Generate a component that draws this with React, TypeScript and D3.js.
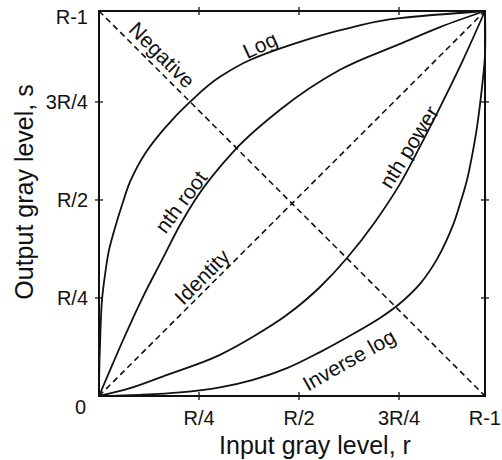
import React from "react";
import * as d3 from "d3";

// Values in units of R (gray-level range)
const R_MAX_X = 0.965; // position of "R-1" on the input axis
const R_MAX_Y = 0.982; // position of "R-1" on the output axis

const xTickValues = [0.25, 0.5, 0.75, R_MAX_X];
const xTickLabels = ["R/4", "R/2", "3R/4", "R-1"];
const yTickValues = [0, 0.25, 0.5, 0.75, R_MAX_Y];
const yTickLabels = ["0", "R/4", "R/2", "3R/4", "R-1"];

const logR = [0, 0.00125, 0.00375, 0.0075, 0.015, 0.025, 0.04, 0.0575, 0.0775, 0.1175, 0.165, 0.2275, 0.3025, 0.3775, 0.4775, 0.6275, 0.7525, 0.965];
const logS = [0, 0.092, 0.168, 0.245, 0.309, 0.372, 0.429, 0.487, 0.546, 0.622, 0.684, 0.75, 0.814, 0.857, 0.895, 0.939, 0.964, 0.982];

const rootR = [0, 0.0225, 0.0525, 0.11, 0.1575, 0.2025, 0.24, 0.34, 0.4525, 0.6025, 0.7525, 0.8525, 0.965];
const rootS = [0, 0.054, 0.125, 0.253, 0.347, 0.436, 0.5, 0.628, 0.73, 0.832, 0.898, 0.941, 0.982];

const powerR = [0, 0.0775, 0.17, 0.3025, 0.385, 0.47, 0.5525, 0.62, 0.69, 0.7525, 0.815, 0.8775, 0.91, 0.965];
const powerS = [0, 0.02, 0.054, 0.105, 0.151, 0.207, 0.278, 0.352, 0.444, 0.541, 0.661, 0.788, 0.857, 0.982];

const invLogR = [0, 0.1025, 0.2025, 0.3025, 0.385, 0.47, 0.5525, 0.635, 0.7025, 0.7475, 0.8025, 0.845, 0.885, 0.9025, 0.92, 0.9325, 0.945, 0.9575, 0.965, 0.965];
const invLogS = [0, 0.003, 0.009, 0.022, 0.041, 0.071, 0.112, 0.158, 0.199, 0.232, 0.286, 0.349, 0.436, 0.49, 0.551, 0.612, 0.686, 0.788, 0.87, 0.982];

const identityR = [0, R_MAX_X];
const identityS = [0, R_MAX_Y];
const negativeR = [0, R_MAX_X];
const negativeS = [R_MAX_Y, 0];

const W = 502;
const H = 460;

const x = d3.scaleLinear().domain([0, R_MAX_X]).range([99, 485]);
const y = d3.scaleLinear().domain([0, R_MAX_Y]).range([396, 11]);

const zip = (a: number[], b: number[]) => a.map((v, i) => [v, b[i]] as [number, number]);

const lineX = d3
  .line<[number, number]>()
  .x((d) => x(d[0]))
  .y((d) => y(d[1]))
  .curve(d3.curveMonotoneX);

const lineY = d3
  .line<[number, number]>()
  .x((d) => x(d[0]))
  .y((d) => y(d[1]))
  .curve(d3.curveMonotoneY);

const lineCR = d3
  .line<[number, number]>()
  .x((d) => x(d[0]))
  .y((d) => y(d[1]))
  .curve(d3.curveCatmullRom.alpha(0.5));

const straight = d3
  .line<[number, number]>()
  .x((d) => x(d[0]))
  .y((d) => y(d[1]));

const FONT = "'Liberation Sans', Arial, Helvetica, sans-serif";

export default function App() {
  const solid = [
    lineY(zip(logR, logS)),
    lineX(zip(rootR, rootS)),
    lineX(zip(powerR, powerS)),
    lineCR(zip(invLogR, invLogS)),
  ];
  const dashed = [zip(identityR, identityS), zip(negativeR, negativeS)];

  const labels: { text: string; r: number; s: number; angle: number }[] = [
    { text: "Negative", r: 0.1575, s: 0.87, angle: 45 },
    { text: "Log", r: 0.4025, s: 0.895, angle: -25 },
    { text: "nth root", r: 0.205, s: 0.495, angle: -53 },
    { text: "Identity", r: 0.2575, s: 0.304, angle: -45 },
    { text: "nth power", r: 0.775, s: 0.635, angle: -58 },
    { text: "Inverse log", r: 0.625, s: 0.092, angle: -29.5 },
  ];

  const x0 = x(0), x1 = x(R_MAX_X), y0 = y(0), y1 = y(R_MAX_Y);
  const tk = 4;

  return (
    <svg
      width={W}
      height={H}
      style={{ position: "absolute", left: 0, top: 0, background: "#fff" }}
      fontFamily={FONT}
    >
      <rect x={0} y={0} width={W} height={H} fill="#fff" />
      {/* curves */}
      {solid.map((d, i) => (
        <path key={"s" + i} d={d || ""} fill="none" stroke="#111" strokeWidth={1.8} />
      ))}
      {dashed.map((d, i) => (
        <path
          key={"d" + i}
          d={straight(d) || ""}
          fill="none"
          stroke="#111"
          strokeWidth={1.6}
          strokeDasharray="6,4"
        />
      ))}
      {/* frame */}
      <rect x={x0} y={y1} width={x1 - x0} height={y0 - y1} fill="none" stroke="#111" strokeWidth={2} />
      {/* x ticks (bottom and top) */}
      {xTickValues.slice(0, 3).map((v, i) => (
        <g key={"xt" + i}>
          <line x1={x(v)} x2={x(v)} y1={y0 - tk} y2={y0 + tk} stroke="#111" strokeWidth={1.3} />
          <line x1={x(v)} x2={x(v)} y1={y1 - tk} y2={y1 + tk} stroke="#111" strokeWidth={1.3} />
        </g>
      ))}
      {yTickValues.slice(1, 4).map((v, i) => (
        <g key={"yt" + i}>
          <line x1={x0 - tk} x2={x0 + tk} y1={y(v)} y2={y(v)} stroke="#111" strokeWidth={1.3} />
          <line x1={x1 - tk} x2={x1 + tk} y1={y(v)} y2={y(v)} stroke="#111" strokeWidth={1.3} />
        </g>
      ))}
      {/* tick labels */}
      {xTickValues.map((v, i) => {
        const last = i === xTickValues.length - 1;
        return (
          <text
            key={"xl" + i}
            x={last ? W - 1 : x(v)}
            y={425}
            fontSize={20}
            textAnchor={last ? "end" : "middle"}
            fill="#111"
          >
            {xTickLabels[i]}
          </text>
        );
      })}
      {yTickValues.map((v, i) => {
        let off = 7;
        if (i === 0) off = 18;
        if (i === yTickValues.length - 1) off = 13;
        return (
          <text
            key={"yl" + i}
            x={i === 0 ? 86 : 88}
            y={y(v) + off}
            fontSize={20}
            textAnchor="end"
            fill="#111"
          >
            {yTickLabels[i]}
          </text>
        );
      })}
      {/* axis titles */}
      <text x={315} y={454} fontSize={25} textAnchor="middle" fill="#111">
        Input gray level, r
      </text>
      <text
        transform={`translate(33,192) rotate(-90)`}
        fontSize={25}
        textAnchor="middle"
        fill="#111"
      >
        Output gray level, s
      </text>
      {/* curve labels */}
      {labels.map((l, i) => (
        <text
          key={"cl" + i}
          transform={`translate(${x(l.r)},${y(l.s)}) rotate(${l.angle})`}
          fontSize={21}
          textAnchor="middle"
          dy="0.35em"
          fill="#111"
        >
          {l.text}
        </text>
      ))}
    </svg>
  );
}
